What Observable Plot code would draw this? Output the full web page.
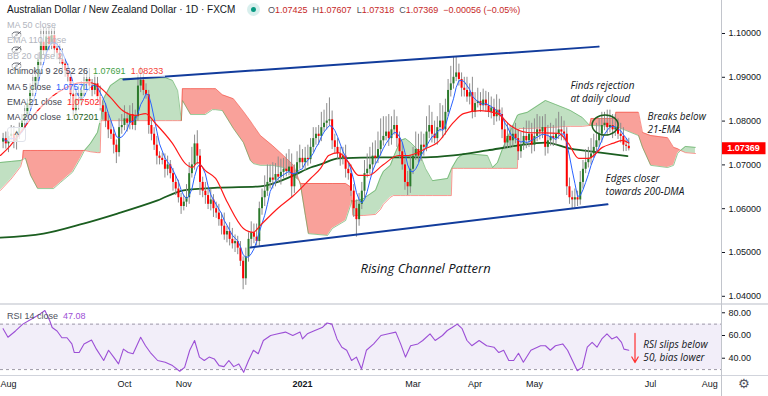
<!DOCTYPE html>
<html><head><meta charset="utf-8">
<script src="https://cdn.jsdelivr.net/npm/d3@7"></script>
<script src="https://cdn.jsdelivr.net/npm/@observablehq/plot@0.6"></script>
<style>
html,body{margin:0;padding:0;background:#fff;overflow:hidden}
#wrap{position:relative;width:768px;height:396px;overflow:hidden;background:#fff;font-family:"Liberation Sans",Arial,sans-serif;color:#131722}
#wrap svg{position:absolute;left:0;display:block}
.abs{position:absolute;white-space:nowrap;line-height:12px}
.lg{font-size:9px;background:rgba(255,255,255,0.6);padding-right:2px}
</style></head>
<body><div id="wrap"></div>
<script>
// ---------- DATA (prices in pips over 1.0000) ----------
const firstOpen = 752;
const close = [
 760,748,765,770,752,768,785,800,815,840,
 870,880,900,940,980,960,992,975,995,965,
 955,940,930,915,900,860,825,850,845,870,
 885,895,880,870,885,855,835,820,800,780,
 770,745,728,785,790,805,795,815,790,810,
 880,893,870,860,790,770,745,720,715,710,
 690,700,680,660,645,625,605,615,625,680,
 700,748,720,660,640,630,610,620,600,590,
 575,560,540,548,530,520,525,510,480,440,
 490,530,545,535,525,600,625,640,660,670,
 665,678,672,683,690,685,695,650,680,705,
 715,705,715,712,740,760,770,765,785,795,
 800,803,755,740,725,715,720,690,680,640,
 600,575,610,640,680,690,700,720,715,735,
 755,765,775,760,780,790,760,730,700,660,
 650,690,720,735,720,745,740,775,790,770,
 760,785,800,780,820,870,885,900,910,895,
 875,870,855,865,820,840,845,835,848,835,
 820,830,810,825,815,780,750,765,755,770,
 760,730,745,765,755,770,745,765,780,775,
 785,740,755,765,760,770,780,775,770,650,
 625,620,625,620,660,690,705,715,725,740,
 755,770,790,795,785,790,780,785,770,765,
 745,742.5,736.9];
const upperWick = [
 12,15,10,20,18,10,12,15,20,10, 15,25,20,15,30,35,20,25,15,20,
 15,20,25,10,15,12,20,25,30,20, 35,20,25,15,20,15,25,10,20,15,
 20,15,12,20,25,30,15,20,25,15, 25,30,20,15,10,12,15,20,10,12,
 15,20,10,12,15,20,10,15,30,25, 40,20,30,15,12,20,15,25,12,15,
 20,15,30,12,20,25,15,12,15,10, 20,15,25,20,30,15,20,35,40,30,
 35,25,40,30,25,35,40,30,20,25, 30,20,25,30,20,25,15,20,35,30,
 40,50,20,15,20,15,20,25,15,20, 15,20,25,20,30,35,40,30,35,40,
 50,45,35,40,30,35,20,15,20,15, 25,30,20,40,35,30,25,35,45,30,
 30,25,40,35,30,25,40,45,35,20, 15,25,30,20,35,25,30,20,25,20,
 30,25,20,35,25,15,20,30,25,20, 25,20,30,20,35,30,25,40,35,30,
 25,30,35,30,25,35,40,30,25,15, 20,15,20,15,25,20,30,25,35,30,
 40,35,30,25,30,35,25,30,20,25, 20,15,18.2];
const lowerWick = [
 15,12,20,10,15,18,10,12,15,10, 12,15,10,20,15,10,20,15,12,18,
 15,10,20,15,12,20,15,10,20,12, 15,20,12,15,10,15,12,18,15,20,
 12,20,25,10,15,12,20,15,10,12, 10,15,12,10,20,15,12,20,15,10,
 20,15,12,20,15,12,18,10,12,15, 10,12,20,30,15,20,12,15,20,12,
 15,20,12,18,15,12,20,15,12,25, 15,12,20,15,10,12,15,20,12,15,
 20,15,12,18,15,12,10,25,15,12, 15,12,18,15,10,12,15,20,12,10,
 15,12,20,15,12,18,15,20,15,12, 20,40,15,12,15,10,12,20,15,12,
 15,12,10,18,15,12,20,15,12,18, 20,15,12,10,15,12,20,10,15,20,
 12,15,10,20,12,10,15,12,10,15, 20,15,12,18,15,12,10,15,12,15,
 12,15,20,12,15,20,15,12,18,15, 12,20,15,12,18,15,20,15,12,18,
 15,20,15,12,18,15,12,20,15,20, 15,20,18,15,12,15,10,12,15,10,
 12,15,20,12,15,12,20,15,12,15, 15,12,5.1];
// EMA 21 (bar index, pips)
const ema21 = [[-1,721.5],[2.7,744],[6.5,774],[11.3,813],[16.5,847],[20.2,865],[25,881],[28.7,888],[32.4,888],[35,881],[39.8,854],[44.3,824],[49.1,813],[52.8,817],[56.5,794.5],[62.8,749],[67.6,703],[70.2,694],[72.1,705.5],[75,687],[78.8,669],[83.2,614],[89.1,555],[92.8,546],[95.4,562],[101.7,600],[107.7,630],[114,669],[117.7,692],[120.7,721.5],[124.4,728],[128.1,705.5],[131.8,676],[135.5,676],[140.7,699],[146.6,721.5],[150.3,721.5],[156.6,737],[161.1,751],[167,797],[170.7,817],[177,824],[183.3,817],[188.1,790],[194.4,774],[206,772],[209.6,749],[213.4,715],[217.1,715],[222.2,740],[226,749],[229.7,756],[232,750]];
// MA 200
const ma200 = [[-1,534],[15,543],[29.8,566],[42.4,589],[57.3,619],[66.9,642],[79.5,648],[95.4,651],[107.7,676],[114,694],[117.7,701],[124.4,715],[141,717],[156.6,717],[167,721.5],[179.6,733],[190.7,744],[201.1,751],[210.4,737],[221.5,728],[231.5,720]];
// Ichimoku cloud: [bar index, span A, span B]
const cloud = [[-1,705.5,641.6],[3,708,668],[6.5,710,696],[7.2,712,712],[7.5,713,733],[8.3,715,733],[10.2,676,733],[12.8,646,733],[18.7,646,733],[21.3,660,733],[25.7,683,733],[28.7,715,733],[30.2,733,733],[32.4,749,730],[35,774,728],[36,801,728],[36.3,805,801],[36.9,847,801],[39.8,881,801],[43.5,897,801],[60.2,899,801],[62.8,893,801],[64.7,870,801],[66.1,801,801],[66.5,847,874],[69.5,815,874],[75,815,874],[77.6,826,874],[78.8,826,874],[81.3,824,860],[85.4,783,851],[89.1,751,822],[91.7,710,800],[92.8,703,790],[95.4,699,767],[99.9,699,744],[104,694,721],[107.7,676,699],[109.8,664,664],[110.3,653,657.5],[112.1,584,657.5],[113.2,543,657.5],[120.3,539,657.5],[122.1,555,657.5],[127,573,657.5],[128.8,607,650],[129.3,620,620],[129.7,616,584.5],[133.6,623,584.5],[138.1,642,587],[139.9,671,598],[141,685,610],[143.6,699,626],[144.7,717,630],[147.4,756,630],[149.2,760,630],[151.1,751,630],[154,733,630],[156.6,692,630],[159.2,664,630],[164.8,669,630],[166.2,690,630],[166.5,694,692],[168.5,715,692],[170.7,726,692],[179.6,721.5,692],[181.5,694,692],[183.3,705,692],[185.2,737,692],[190.7,813,692],[191.2,815,783],[194.4,820,783],[201.1,847,785],[204.8,838,786],[208.5,829,788],[210.4,824,788],[214.8,808,788],[217.5,790,790],[218,790,806],[226.9,788,806],[227.2,788,820],[235.6,767,820],[237.1,740,774],[240.1,699,767],[246.4,694,762],[248.6,699,740],[250.1,726,737],[251.2,733,733],[253,742,728],[256.7,740,726]];
// RSI 14
const rsi = [[0,66],[1.8,58.5],[4.6,64],[7.3,70],[10.9,75],[13.7,79],[15.5,82],[17.3,73],[18.2,67],[20,64],[21.8,58],[23.7,58],[25.5,52.6],[26.4,45],[28.2,45],[30,52.6],[32.8,56],[34.6,48],[37.3,38],[39.1,47],[41,41],[42.8,35],[44.6,48],[46.4,45],[48.2,44],[51,58.5],[52.8,51],[54.6,45],[57.3,38],[60.1,36.5],[62.8,33.5],[65.5,28.5],[67.3,32],[69.2,47],[71,55.6],[72.8,41],[74.6,38],[76.4,41],[78.3,39.4],[80.1,33.5],[81.9,32.6],[83.7,38],[85.5,32.6],[87.4,35],[89.2,27.6],[91,38],[92.8,47],[94.6,44],[96.5,55.6],[99.2,60],[101.9,61.5],[104.7,63],[107.4,60],[110.1,63],[111,57],[112.8,61.5],[115.6,64.4],[118.3,67],[120.1,71],[121.9,70],[123.8,57],[125.6,49.7],[127.4,47],[129.2,38],[131,41],[132.9,30.6],[134.7,47],[137.4,52.6],[140.1,60],[142.9,61.5],[145.6,63],[147.4,52.6],[149.2,41],[151.1,51],[153.8,52.6],[155.6,55.6],[158.3,61.5],[160.2,55.6],[162.9,60],[164.7,64.4],[166.5,67],[168.4,70],[170.2,66],[172,55.6],[173.8,51],[176.5,55.6],[179.3,51],[182,49.7],[183.8,45],[185.6,47],[187.5,38],[189.3,38],[191.1,44.4],[192.9,36.5],[195.7,47],[199.3,51],[201.1,51],[202.9,47],[204.8,51],[207.5,52.6],[209.3,47],[211.1,38],[212.9,29],[214.8,32],[216.6,49.7],[218.4,54],[220.2,49.7],[222,57],[223.9,61.5],[225.7,57],[227.5,59],[229.3,54],[230.2,48],[232,47.08]];
// trend channel (bar index, pips)
const channelUpper = [[44.6,895],[220.8,970]];
const channelLower = [[91.7,511.4],[224.1,610]];
// axis ticks
const priceTicks = [1.04,1.05,1.06,1.07,1.08,1.09,1.10];
const rsiTicks = [40,60,80];
const tickMonths = ["2020-08","2020-10","2020-11","2021-01","2021-03","2021-04","2021-05","2021-07","2021-08"];
const tickLabels = ["Aug","Oct","Nov","2021","Mar","Apr","May","Jul","Aug"];
// annotations
const notes = [
 {i:210.4, p:1.08671, text:"Finds rejection\nat daily cloud"},
 {i:238.9, p:1.07968, text:"Breaks below\n21-EMA"},
 {i:223.4, p:1.06564, text:"Edges closer\ntowards 200-DMA"}];
const channelNote = [{i:132.5, p:1.04635, text:"Rising Channel Pattern"}];
const rsiNote = [{i:237.4, r:47.2, text:"RSI slips below\n50, bias lower"}];
const rsiArrow = [{i:234.3, r1:61.8, r2:36.2}];
const circleAt = {i:223.4, p:1.0790};
const legendItems = [
 {name:"MA 50 close", hidden:true}, {name:"EMA 110 close", hidden:true}, {name:"BB 20 close 2", hidden:true},
 {name:"Ichimoku 9 26 52 26", values:[["1.07691","#43a047"],["1.08233","#f44336"]]},
 {name:"MA 5 close", values:[["1.07571","#2962ff"]]},
 {name:"EMA 21 close", values:[["1.07502","#ff2a2a"]]},
 {name:"MA 200 close", values:[["1.07201","#1b5e20"]]}];
const ohlc = [["O","1.07425"],["H","1.07607"],["L","1.07318"],["C","1.07369"],["","\u22120.00056 (\u22120.05%)"]];
const rsiValue = "47.08";

// ---------- BUILD ----------
const px = v => 1 + v / 10000;
const bars = close.map((c, i) => {
  const o = i === 0 ? firstOpen : close[i - 1];
  return {i, open: px(o), close: px(c), high: px(Math.max(o, c) + upperWick[i]), low: px(Math.min(o, c) - lowerWick[i]), up: c >= o};
});
const cloudRows = cloud.map(([i, a, b]) => ({i, a: px(a), b: px(b)}));
const segs = []; let cur = [];
for (const r of cloudRows) { cur.push(r); if (r.a === r.b && cur.length > 1) { segs.push(cur); cur = [r]; } }
if (cur.length > 1) segs.push(cur);
const cloudData = segs.flatMap((rows, k) => { const kind = d3.sum(rows, r => r.a - r.b) > 0 ? "up" : "down"; return rows.map(r => ({...r, seg: k, kind})); });

const start = new Date(Date.UTC(2020, 6, 30));
const days = [];
for (let t = start.getTime(); days.length < 280; t += 864e5) { const d = new Date(t); const wd = d.getUTCDay(); if (wd !== 0 && wd !== 6) days.push(d); }
const ticks = tickMonths.map((m, k) => ({i: days.findIndex(d => d.toISOString().slice(0, 7) === m), label: tickLabels[k], year: /^\d{4}$/.test(tickLabels[k])}));

const W = 768, RIGHT = 47;
const xDomain = [-0.964, 266.37];
const font = "'Liberation Sans', Arial, sans-serif";
const noteFont = "'Open Sans', 'DejaVu Sans', sans-serif";

const priceChart = Plot.plot({
  width: W, height: 304, marginTop: 0, marginBottom: 0, marginLeft: 0, marginRight: RIGHT,
  style: {fontFamily: font, fontSize: "9px", color: "#131722", background: "transparent"},
  x: {domain: xDomain, axis: null},
  y: {domain: [1.03813, 1.10753], axis: "right", ticks: priceTicks, tickFormat: d3.format(".5f"), tickSize: 3, tickPadding: 4, label: null},
  marks: [
    Plot.areaY(cloudData.filter(d => d.kind === "up"), {x: "i", y1: "a", y2: "b", z: "seg", fill: "#43a047", fillOpacity: 0.33}),
    Plot.areaY(cloudData.filter(d => d.kind === "down"), {x: "i", y1: "a", y2: "b", z: "seg", fill: "#f44336", fillOpacity: 0.5}),
    Plot.line(cloudRows, {x: "i", y: "a", stroke: "#43a047", strokeOpacity: 0.55, strokeWidth: 1}),
    Plot.line(cloudRows, {x: "i", y: "b", stroke: "#f44336", strokeOpacity: 0.55, strokeWidth: 1}),
    Plot.line(ma200, {x: d => d[0], y: d => px(d[1]), stroke: "#1b5e20", strokeWidth: 1.8, curve: "monotone-x"}),
    Plot.ruleX(bars, {x: "i", y1: "low", y2: "high", stroke: "#8c8c8c", strokeWidth: 1}),
    Plot.ruleX(bars.filter(d => d.up), {x: "i", y1: "open", y2: "close", stroke: "#2b7a2b", strokeWidth: 2}),
    Plot.ruleX(bars.filter(d => !d.up), {x: "i", y1: "open", y2: "close", stroke: "#ff0000", strokeWidth: 2}),
    Plot.lineY(bars, Plot.windowY({k: 5, anchor: "end", reduce: "mean"}, {x: "i", y: "close", stroke: "#2962ff", strokeWidth: 1})),
    Plot.line(ema21, {x: d => d[0], y: d => px(d[1]), stroke: "#ff1a1a", strokeWidth: 1.2, curve: "monotone-x"}),
    Plot.line(channelUpper, {x: d => d[0], y: d => px(d[1]), stroke: "#123c9c", strokeWidth: 2}),
    Plot.line(channelLower, {x: d => d[0], y: d => px(d[1]), stroke: "#123c9c", strokeWidth: 2}),
    (index, scales) => {
      const e = d3.create("svg:ellipse")
        .attr("cx", scales.x(circleAt.i)).attr("cy", scales.y(circleAt.p))
        .attr("rx", 13).attr("ry", 10).attr("fill", "none").attr("stroke", "#1e5e20").attr("stroke-width", 1.5);
      return e.node();
    },
    Plot.text(notes, {x: "i", y: "p", text: "text", textAnchor: "start", lineAnchor: "middle", lineHeight: 1.3, fontSize: 10, fontStyle: "italic", fontFamily: noteFont, fill: "#131722"}),
    Plot.text(channelNote, {x: "i", y: "p", text: "text", textAnchor: "start", fontSize: 13, fontStyle: "italic", fontFamily: noteFont, fill: "#131722"}),
    (index, scales) => {
      const last = bars[bars.length - 1].close;
      const yy = scales.y(last);
      const g = d3.create("svg:g");
      g.append("rect").attr("x", 721.5).attr("y", yy - 6).attr("width", 44).attr("height", 12).attr("fill", "#ff0000");
      g.append("text").attr("x", 743.5).attr("y", yy).attr("dy", "0.35em").attr("text-anchor", "middle")
        .attr("fill", "#fff").attr("font-size", 9).attr("font-weight", "bold").attr("font-family", font)
        .text(d3.format(".5f")(last));
      return g.node();
    }
  ]
});

const rsiChart = Plot.plot({
  width: W, height: 91, marginTop: 0, marginBottom: 21, marginLeft: 0, marginRight: RIGHT,
  style: {fontFamily: font, fontSize: "9px", color: "#131722", background: "transparent"},
  x: {domain: xDomain, axis: null},
  y: {domain: [24.8, 86.4], axis: "right", ticks: rsiTicks, tickFormat: d3.format(".2f"), tickSize: 3, tickPadding: 4, label: null},
  marks: [
    Plot.rect([{}], {x1: xDomain[0], x2: xDomain[1], y1: 30, y2: 70, fill: "#7e57c2", fillOpacity: 0.1}),
    Plot.ruleY([30, 70], {stroke: "#9e9aa8", strokeDasharray: "3,3", strokeWidth: 1}),
    Plot.line(rsi, {x: d => d[0], y: d => d[1], stroke: "#9c4fd6", strokeWidth: 1.1}),
    Plot.arrow(rsiArrow, {x1: "i", x2: "i", y1: "r1", y2: "r2", stroke: "#ff3030", strokeWidth: 1.2, headLength: 8}),
    Plot.text(rsiNote, {x: "i", y: "r", text: "text", textAnchor: "start", lineAnchor: "middle", lineHeight: 1.3, fontSize: 10, fontStyle: "italic", fontFamily: noteFont, fill: "#131722"}),
    Plot.text(ticks.filter(d => !d.year), {x: "i", text: "label", frameAnchor: "bottom", dy: 11, fontSize: 9, fill: "#131722"}),
    Plot.text(ticks.filter(d => d.year), {x: "i", text: "label", frameAnchor: "bottom", dy: 11, fontSize: 9, fontWeight: "bold", fill: "#131722"})
  ]
});

const wrap = document.getElementById("wrap");
priceChart.style.top = "0px";
rsiChart.style.top = "305px";
wrap.appendChild(priceChart);
wrap.appendChild(rsiChart);

function addDiv(style, html) { const d = document.createElement("div"); d.className = "abs"; Object.assign(d.style, style); d.innerHTML = html; wrap.appendChild(d); return d; }
// frame lines
addDiv({left: "0px", top: "303px", width: "768px", height: "2px", background: "#dcdee3"}, "");
addDiv({left: "0px", top: "375px", width: "768px", height: "1px", background: "#d1d4dc"}, "");
addDiv({left: "721px", top: "0px", width: "1px", height: "396px", background: "#c2c5cc"}, "");
addDiv({left: "738px", top: "378px", fontSize: "13px", color: "#50535e", fontFamily: "'DejaVu Sans'"}, "\u2699");
// header
addDiv({left: "7px", top: "4px", fontSize: "10px", color: "#131722"}, "Australian Dollar / New Zealand Dollar \u00b7 1D \u00b7 FXCM");
addDiv({left: "247px", top: "3px", width: "13px", height: "13px", borderRadius: "50%", background: "rgba(38,166,154,0.18)"}, "");
addDiv({left: "251px", top: "7px", width: "5px", height: "5px", borderRadius: "50%", background: "#089981"}, "");
addDiv({left: "268px", top: "4px", fontSize: "9px"}, ohlc.map(([k, v]) => `<span style="color:#50535e">${k}</span><span style="color:#c62828">${v}</span>`).join("&nbsp; "));
// legend
const eye = `<svg width="11" height="8" style="margin-left:4px;vertical-align:-1px" viewBox="0 0 11 8"><ellipse cx="5.5" cy="4" rx="4.5" ry="3" fill="none" stroke="#50535e" stroke-width="0.9"/><circle cx="5.5" cy="4" r="1.2" fill="#50535e"/><line x1="1" y1="7.5" x2="10" y2="0.5" stroke="#50535e" stroke-width="0.9"/></svg>`;
legendItems.forEach((it, k) => {
  const top = 19 + k * 15.4;
  const html = it.hidden
    ? `<span style="color:#b2b5be">${it.name}</span>${eye}`
    : `<span style="color:#434651">${it.name}</span>` + it.values.map(([v, c]) => `&nbsp; <span style="color:${c}">${v}</span>`).join("");
  addDiv({left: "7px", top: top + "px"}, html).classList.add("lg");
});
addDiv({left: "7px", top: "127px", width: "17px", height: "13px", border: "1px solid #e0e3eb", borderRadius: "3px", background: "rgba(255,255,255,0.8)", fontSize: "9px", textAlign: "center", lineHeight: "15px", color: "#131722"}, "^");
// RSI legend
addDiv({left: "7px", top: "310px", fontSize: "9px"}, `<span style="color:#50535e">RSI 14 close</span>&nbsp; <span style="color:#9c4fd6">${rsiValue}</span>`);
</script></body></html>
